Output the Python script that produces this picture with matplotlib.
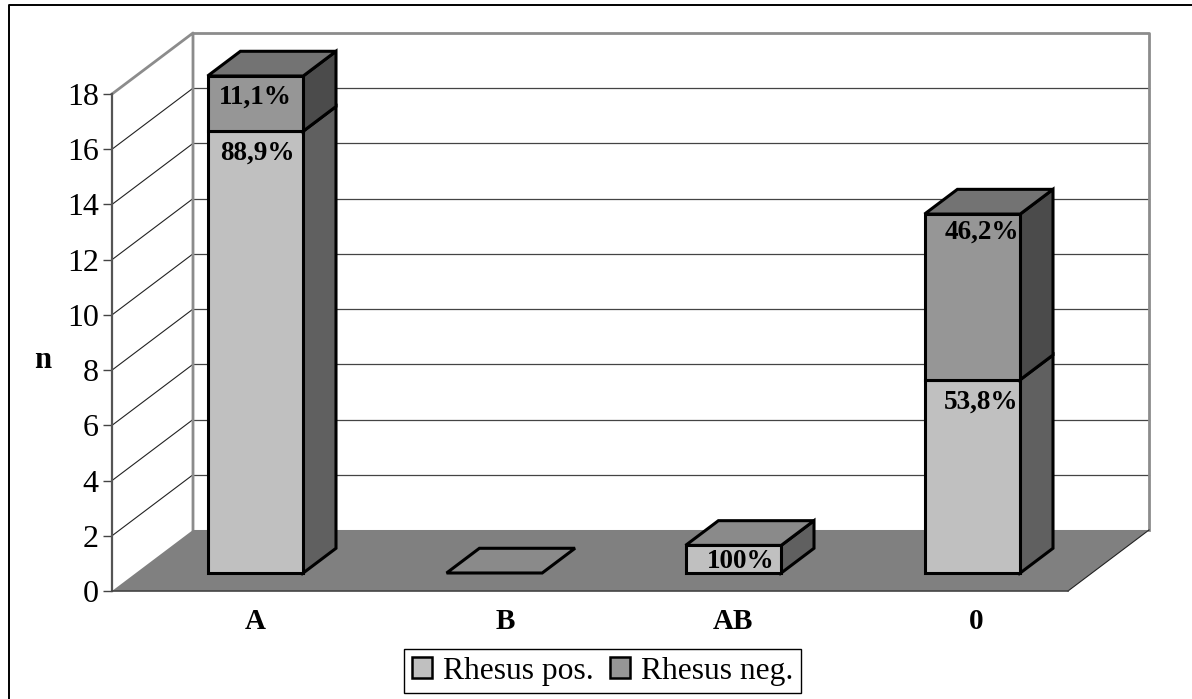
# -*- coding: utf-8 -*-
import matplotlib
matplotlib.use('Agg')
import matplotlib.pyplot as plt
from matplotlib.lines import Line2D
from matplotlib.patches import Patch, Polygon

plt.rcParams['font.family'] = ['Liberation Serif', 'DejaVu Serif']

groups = ['A', 'B', 'AB', '0']
rhesus_pos = [16, 0, 1, 7]
rhesus_neg = [2, 0, 0, 6]
pos_labels = ['88,9%', '', '100%', '53,8%']
neg_labels = ['11,1%', '', '', '46,2%']
y_ticks = [0, 2, 4, 6, 8, 10, 12, 14, 16, 18]

# fake 3D: how far the back wall is shifted from the front plane, in data units
DEPTH_X = 81 / 239
DEPTH_Y = 61 / 27.6
BAR_WIDTH = 0.4
BAR_FRONT, BAR_BACK = 0.295, 0.70

POS_FRONT, POS_SIDE = '#c0c0c0', '#606060'
NEG_FRONT, NEG_SIDE = '#969696', '#4b4b4b'
WALL = '#8c8c8c'


def proj(x, y, d):
    """Shift a point (x, y) back to depth d (0 = front, 1 = back wall)."""
    return x + d * DEPTH_X, y + d * DEPTH_Y


def face(ax, points, color, z, edge='black', lw=2.2):
    ax.add_patch(Polygon(points, closed=True, facecolor=color, edgecolor=edge,
                         linewidth=lw, joinstyle='miter', clip_on=False, zorder=z))


def box_segment(ax, i, y0, y1, front, side, z):
    x0, x1 = i - BAR_WIDTH / 2 + 0.5, i + BAR_WIDTH / 2 + 0.5
    fa = [proj(x0, y0, BAR_FRONT), proj(x1, y0, BAR_FRONT),
          proj(x1, y1, BAR_FRONT), proj(x0, y1, BAR_FRONT)]
    sd = [proj(x1, y0, BAR_FRONT), proj(x1, y0, BAR_BACK),
          proj(x1, y1, BAR_BACK), proj(x1, y1, BAR_FRONT)]
    face(ax, sd, side, z)
    face(ax, fa, front, z)


def box_top(ax, i, y, color, z):
    x0, x1 = i - BAR_WIDTH / 2 + 0.5, i + BAR_WIDTH / 2 + 0.5
    face(ax, [proj(x0, y, BAR_FRONT), proj(x1, y, BAR_FRONT),
              proj(x1, y, BAR_BACK), proj(x0, y, BAR_BACK)], color, z)


fig = plt.figure(figsize=(11.92, 6.99), dpi=100)

# chart frame, only the top and left edges fall inside the image
fig.add_artist(Line2D([8.5 / 1192, 8.5 / 1192, 1], [0, (699 - 5) / 699, (699 - 5) / 699],
                      color='black', linewidth=1.4, transform=fig.transFigure))

ax = fig.add_axes([112 / 1192, (699 - 591) / 699, 956 / 1192, 497 / 699])
ax.set_xlim(0, 4)
ax.set_ylim(0, 18)
ax.patch.set_alpha(0)

# back wall and left wall
for t in y_ticks[1:-1]:
    ax.plot([0, DEPTH_X], [t, t + DEPTH_Y], color='#222222', lw=0.8,
            clip_on=False, zorder=1)
    ax.plot([DEPTH_X, 4 + DEPTH_X], [t + DEPTH_Y, t + DEPTH_Y], color='#444444',
            lw=0.9, clip_on=False, zorder=1)
ax.plot([0, DEPTH_X, DEPTH_X], [18, 18 + DEPTH_Y, DEPTH_Y], color=WALL, lw=2,
        clip_on=False, zorder=1)
ax.plot([DEPTH_X, 4 + DEPTH_X, 4 + DEPTH_X],
        [18 + DEPTH_Y, 18 + DEPTH_Y, DEPTH_Y], color=WALL, lw=2,
        clip_on=False, zorder=1)

# floor
ax.add_patch(Polygon([(0, 0), (4, 0), (4 + DEPTH_X, DEPTH_Y), (DEPTH_X, DEPTH_Y)],
                     closed=True, facecolor='#808080', edgecolor='none',
                     clip_on=False, zorder=2))
ax.plot([4, 4 + DEPTH_X], [0, DEPTH_Y], color='#222222', lw=0.8, clip_on=False,
        zorder=2)

# stacked boxes
for i in range(len(groups)):
    pos, neg = rhesus_pos[i], rhesus_neg[i]
    z = 3
    if pos > 0:
        box_segment(ax, i, 0, pos, POS_FRONT, POS_SIDE, z)
    if neg > 0:
        box_segment(ax, i, pos, pos + neg, NEG_FRONT, NEG_SIDE, z + 1)
    box_top(ax, i, pos + neg, '#737373' if neg > 0 else '#8a8a8a', z + 2)

# percent labels sit just below the top of their segment
label_shift = [2, 0, 7, 9]
for i in range(len(groups)):
    cx, _ = proj(i + 0.5, 0, BAR_FRONT)
    if pos_labels[i]:
        below = -16 if rhesus_pos[i] == 1 else -22
        ax.annotate(pos_labels[i], (cx, rhesus_pos[i] + BAR_FRONT * DEPTH_Y),
                    xytext=(label_shift[i], below), textcoords='offset pixels',
                    ha='center', va='center', fontsize=19.5, fontweight='bold',
                    annotation_clip=False, zorder=7)
    if neg_labels[i]:
        below = -21 if rhesus_neg[i] == 2 else -18
        ax.annotate(neg_labels[i],
                    (cx, rhesus_pos[i] + rhesus_neg[i] + BAR_FRONT * DEPTH_Y),
                    xytext=(label_shift[i] - (2 if rhesus_neg[i] == 2 else 0), below),
                    textcoords='offset pixels',
                    ha='center', va='center', fontsize=19.5, fontweight='bold',
                    annotation_clip=False, zorder=7)

# axes
for side in ['top', 'right']:
    ax.spines[side].set_visible(False)
ax.spines['left'].set_color('#555555')
ax.spines['left'].set_linewidth(1.6)
ax.spines['bottom'].set_color('#444444')
ax.spines['bottom'].set_linewidth(1.2)
ax.spines['left'].set_zorder(6)
ax.spines['bottom'].set_zorder(6)
ax.set_yticks(y_ticks)
ax.tick_params(axis='y', labelsize=23, length=6.5, width=1, color='#444444', pad=3)
ax.set_xticks([0.598, 1.644, 2.6, 3.615], groups)
ax.tick_params(axis='x', labelsize=21, length=0, pad=12)
for lab in ax.get_xticklabels():
    lab.set_fontweight('bold')
ax.set_ylabel('n', rotation=0, fontsize=22, fontweight='bold', ha='center', va='center')
ax.yaxis.set_label_coords(-69 / 956, 231 / 497)

handles = [Patch(facecolor=POS_FRONT, edgecolor='black', linewidth=1.8),
           Patch(facecolor=NEG_FRONT, edgecolor='black', linewidth=1.8)]
fig.legend(handles, ['Rhesus pos.', 'Rhesus neg.'], loc='center', ncol=2,
           bbox_to_anchor=(602.5 / 1192, (699 - 671) / 699), fontsize=22.7,
           fancybox=False, framealpha=1, edgecolor='black', handlelength=0.65,
           handleheight=0.65, handletextpad=0.35, columnspacing=0.5,
           borderpad=0.25, borderaxespad=0)

fig.savefig('out.png', dpi=100)
